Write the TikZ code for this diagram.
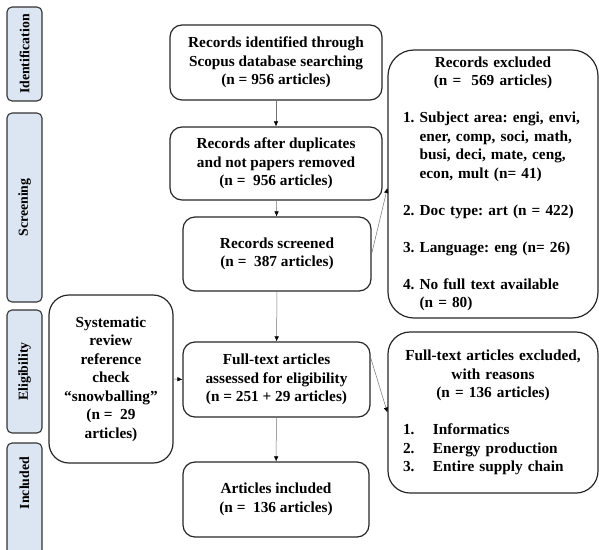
\documentclass[tikz,border=0pt]{standalone}
\usepackage{fontspec}
\setmainfont{Liberation Serif}
\usetikzlibrary{arrows.meta}
\definecolor{phasefill}{HTML}{DCE6F2}
\frenchspacing

\begin{document}
\begin{tikzpicture}[x=1pt,y=-1pt,
  box/.style={draw=black!85,line width=1.2pt,rounded corners=12pt,align=center,inner sep=0pt,
    font=\fontsize{15.3}{18.5}\selectfont\bfseries},
  phase/.style={draw=black!80,line width=1.1pt,fill=phasefill,rounded corners=5pt,rotate=90,
    inner sep=0pt,minimum height=35pt,font=\fontsize{13.8}{16}\selectfont\bfseries},
  flow/.style={draw=black!55,line width=0.5pt,-{Latex[black,length=5pt,width=4.5pt]}}]
\useasboundingbox (0,0) rectangle (599,549);
% phases on the left
\foreach \nm/\txt/\yc/\len in {ident/Identification/54/94, screen/Screening/207.5/189,
  elig/Eligibility/371.5/123, incl/\hspace*{37pt}Included/501.5/117}
  \node[phase,minimum width=\len pt] (\nm) at (24.5,\yc) {\txt};
% main column
\node[box,minimum width=212pt,minimum height=75pt] (rec1) at (276,62.5)
  {Records identified through\\Scopus database searching\\(n = 956 articles)};
\node[box,minimum width=212pt,minimum height=73pt] (rec2) at (276,163.5)
  {Records after duplicates\\and not papers removed\\(n =\ \ 956 articles)};
\node[box,minimum width=188pt,minimum height=74pt] (rec3) at (277,254)
  {Records screened\\(n =\ \ 387 articles)};
\node[box,minimum width=187pt,minimum height=75pt] (full) at (276.5,379.5)
  {Full-text articles\\assessed\ for eligibility\\(n = 251 + 29 articles)};
\node[box,minimum width=186pt,minimum height=75pt] (incbox) at (276,499.5)
  {Articles included\\(n =\ \ 136 articles)};
% side boxes
\node[box,rounded corners=20pt,minimum width=124pt,minimum height=168pt] (snow) at (111,379)
  {Systematic\\review\\reference\\check\\``snowballing''\\(n =\ \ 29\\articles)};
\node[box,rounded corners=26pt,minimum width=210pt,minimum height=268pt,
  text width=180pt,align=left] (excl1) at (493,184)
  {\makebox[\linewidth]{Records excluded}\\
   \makebox[\linewidth]{(n =\ \ 569 articles)}\\[18.5pt]
   \mbox{1. Subject area:\ engi, envi,}\\
   \phantom{1. }ener, comp, soci, math,\\
   \phantom{1. }busi, deci, mate, ceng,\\
   \phantom{1. }econ, mult (n= 41)\\[18.5pt]
   2. Doc type: art (n = 422)\\[18.5pt]
   3. Language: eng (n= 26)\\[18.5pt]
   4. No full text available\\
   \phantom{4. }(n = 80)};
\node[box,rounded corners=22pt,minimum width=210pt,minimum height=161pt,
  text width=180pt,align=left] (excl2) at (493,412.5)
  {\makebox[\linewidth]{Full-text articles excluded,}\\
   \makebox[\linewidth]{with reasons}\\
   \makebox[\linewidth]{(n = 136 articles)}\\[18.5pt]
   \makebox[30pt][l]{1.}Informatics\\
   \makebox[30pt][l]{2.}Energy production\\
   \makebox[30pt][l]{3.}Entire supply chain};
% connectors
\draw[flow] (rec1) -- (rec2);
\draw[flow] (rec2) -- (rec3);
\draw[flow] (rec3) -- (full);
\draw[flow] (full) -- (incbox);
\draw[flow] (rec3.east) -- ([yshift=-4pt]excl1.west);
\draw[flow] ([yshift=22pt]full.east) -- (excl2.west);
\draw[flow] (snow.east) -- (full.west);
\end{tikzpicture}
\end{document}
